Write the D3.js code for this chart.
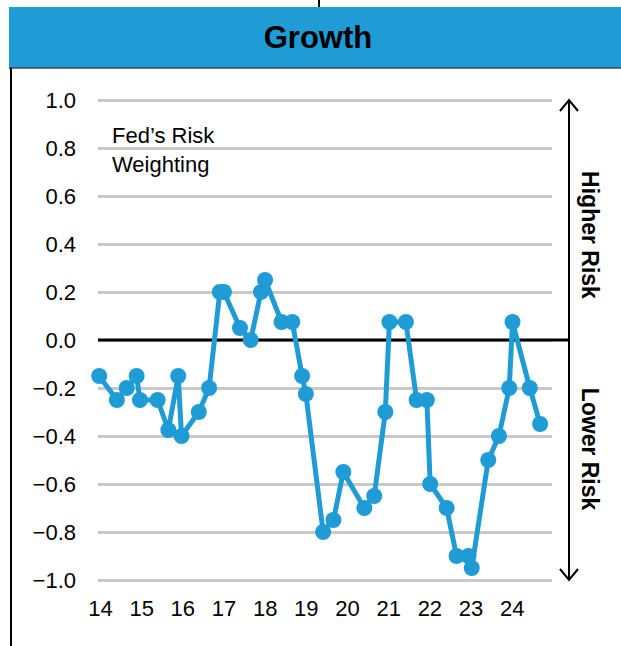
<!DOCTYPE html>
<html>
<head>
<meta charset="utf-8">
<script src="https://cdn.jsdelivr.net/npm/d3@7"></script>
<style>
    body { margin: 0; background: #fff; }
    svg { display: block; font-family: "Liberation Sans", Arial, sans-serif; }
</style>
</head>
<body>
<svg class="growth"></svg>
<script>
// meeting dates as decimal years (14 = 2014)
var meetings = [13.98, 14.41, 14.65, 14.89, 14.97, 15.40, 15.66, 15.90, 15.98, 16.40,
    16.65, 16.91, 17.01, 17.40, 17.66, 17.91, 18.01, 18.41, 18.67, 18.91,
    19.00, 19.42, 19.67, 19.91, 20.42, 20.66, 20.93, 21.03, 21.43, 21.69,
    21.94, 22.02, 22.42, 22.66, 22.95, 23.03, 23.43, 23.69, 23.94, 24.02,
    24.44, 24.69];
var riskWeight = [-0.15, -0.25, -0.2, -0.15, -0.25, -0.25, -0.375, -0.15, -0.4, -0.3,
    -0.2, 0.2, 0.2, 0.05, 0, 0.2, 0.25, 0.075, 0.075, -0.15,
    -0.225, -0.8, -0.75, -0.55, -0.7, -0.65, -0.3, 0.075, 0.075, -0.25,
    -0.25, -0.6, -0.7, -0.9, -0.9, -0.95, -0.5, -0.4, -0.2, 0.075,
    -0.2, -0.35];
var yearTicks = [14, 15, 16, 17, 18, 19, 20, 21, 22, 23, 24];
var yTicks = [1.0, 0.8, 0.6, 0.4, 0.2, 0.0, -0.2, -0.4, -0.6, -0.8, -1.0];

var Growth = {
    fields: {
        chart: null,
        x: null,
        y: null,
        blue: '#1f9bd6'
    },
    init: function () {
        this.fields.chart = d3.select('.growth').attr('width', 621).attr('height', 646);
        this.fields.x = d3.scaleLinear().domain([14, 24]).range([100, 511.7]);
        this.fields.y = d3.scaleLinear().domain([-1, 1]).range([580, 100]);
    },
    frame: function () {
        var c = this.fields.chart;
        // little tick above the header
        c.append('line').attr('x1', 319).attr('x2', 319).attr('y1', 0).attr('y2', 7)
            .attr('stroke', '#000').attr('stroke-width', 2);
        c.append('rect').attr('x', 9).attr('y', 7).attr('width', 612).attr('height', 61)
            .attr('fill', this.fields.blue);
        c.append('line').attr('x1', 9).attr('x2', 621).attr('y1', 68).attr('y2', 68)
            .attr('stroke', '#2d4a5c').attr('stroke-width', 1.5);
        c.append('line').attr('x1', 11).attr('x2', 11).attr('y1', 68).attr('y2', 646)
            .attr('stroke', '#000').attr('stroke-width', 2);
        c.append('text').attr('x', 318).attr('y', 48).attr('text-anchor', 'middle')
            .attr('font-size', 31).attr('font-weight', 'bold').attr('fill', '#000')
            .text('Growth');
    },
    axes: function () {
        var c = this.fields.chart, x = this.fields.x, y = this.fields.y;

        var grid = d3.axisLeft(y).tickValues(yTicks).tickSize(-454).tickFormat('');
        var gg = c.append('g').attr('transform', 'translate(98,0)').call(grid);
        gg.select('.domain').remove();
        gg.selectAll('.tick line').attr('stroke', '#c8c8c8').attr('stroke-width', 3);

        var ya = d3.axisLeft(y).tickValues(yTicks).tickSize(0).tickPadding(0)
            .tickFormat(d3.format('.1f'));
        var yg = c.append('g').attr('transform', 'translate(76,0)').call(ya);
        yg.select('.domain').remove();
        yg.selectAll('text').attr('font-size', 22).attr('fill', '#000')
            .attr('font-family', null);

        var xa = d3.axisBottom(x).tickValues(yearTicks).tickSize(0).tickPadding(0)
            .tickFormat(d3.format('d'));
        var xg = c.append('g').attr('transform', 'translate(0,600)').call(xa);
        xg.select('.domain').remove();
        xg.selectAll('text').attr('font-size', 22).attr('fill', '#000')
            .attr('font-family', null).attr('dy', '0.72em');

        // zero line runs over to the risk arrow
        c.append('line').attr('x1', 98).attr('x2', 569).attr('y1', y(0)).attr('y2', y(0))
            .attr('stroke', '#000').attr('stroke-width', 3);
    },
    riskArrow: function () {
        var c = this.fields.chart, y = this.fields.y;
        var ax = 569;
        c.append('line').attr('x1', ax).attr('x2', ax).attr('y1', y(1)).attr('y2', y(-1))
            .attr('stroke', '#000').attr('stroke-width', 2);
        c.append('path')
            .attr('d', 'M' + (ax - 9) + ',' + (y(1) + 11) + 'L' + ax + ',' + y(1) + 'L' + (ax + 9) + ',' + (y(1) + 11)
                + 'M' + (ax - 9) + ',' + (y(-1) - 11) + 'L' + ax + ',' + y(-1) + 'L' + (ax + 9) + ',' + (y(-1) - 11))
            .attr('fill', 'none').attr('stroke', '#000').attr('stroke-width', 2);
        var labels = [{t: 'Higher Risk', cy: 235}, {t: 'Lower Risk', cy: 449}];
        c.selectAll('.risk').data(labels).enter().append('text')
            .attr('class', 'risk')
            .attr('transform', function (d) { return 'translate(582,' + d.cy + ') rotate(90)'; })
            .attr('text-anchor', 'middle')
            .attr('font-size', 23).attr('font-weight', 'bold').attr('fill', '#000')
            .text(function (d) { return d.t; });
    },
    series: function () {
        var c = this.fields.chart, x = this.fields.x, y = this.fields.y;
        var pts = meetings.map(function (m, i) { return {t: m, v: riskWeight[i]}; });
        var line = d3.line().x(function (d) { return x(d.t); }).y(function (d) { return y(d.v); });
        c.append('path').datum(pts).attr('d', line)
            .attr('fill', 'none').attr('stroke', this.fields.blue).attr('stroke-width', 5)
            .attr('stroke-linejoin', 'round');
        c.selectAll('circle.pt').data(pts).enter().append('circle')
            .attr('class', 'pt')
            .attr('cx', function (d) { return x(d.t); })
            .attr('cy', function (d) { return y(d.v); })
            .attr('r', 8)
            .attr('fill', this.fields.blue);
    },
    note: function () {
        var t = this.fields.chart.append('text').attr('x', 112).attr('y', 143)
            .attr('font-size', 22).attr('fill', '#000');
        t.append('tspan').attr('x', 112).text('Fed\u2019s Risk');
        t.append('tspan').attr('x', 112).attr('dy', 29).text('Weighting');
    }
};

Growth.init();
Growth.frame();
Growth.axes();
Growth.riskArrow();
Growth.series();
Growth.note();
</script>
</body>
</html>
